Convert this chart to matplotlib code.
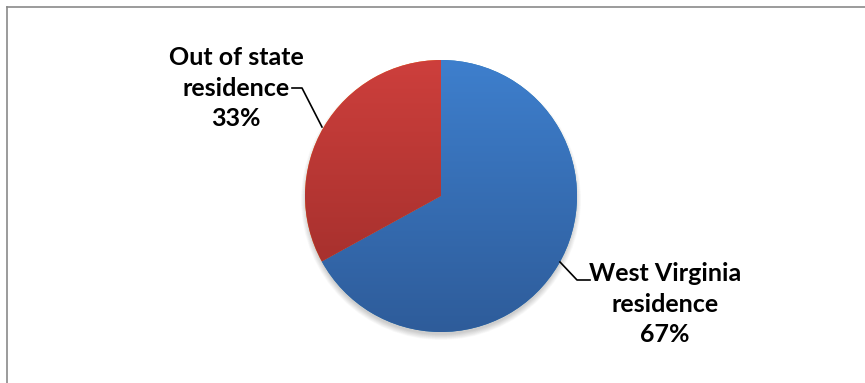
import numpy as np
import matplotlib
matplotlib.use("Agg")
import matplotlib.pyplot as plt
from matplotlib.patches import Circle
from matplotlib.colors import LinearSegmentedColormap

labels = ["West Virginia\nresidence", "Out of state\nresidence"]
values = [67, 33]
top_colors = ["#3E7FCD", "#CD3F3C"]
bottom_colors = ["#2E5C9A", "#9B2C29"]

W, H = 865, 383
fig = plt.figure(figsize=(W / 100, H / 100), dpi=100)
ax = fig.add_axes([0, 0, 1, 1])

cx, cy, r = 441, H - 196, 136

# shadow
for k in range(10):
    ax.add_patch(Circle((cx, cy - 4), r + 4 - k * 0.6, color="#000000",
                        alpha=0.018, lw=0, zorder=1))

wedges, _ = ax.pie(values, startangle=90, counterclock=False,
                   center=(cx, cy), radius=r, frame=True,
                   wedgeprops=dict(linewidth=0))

grad = np.linspace(0, 1, 256).reshape(-1, 1)
for w, ct, cb in zip(wedges, top_colors, bottom_colors):
    w.set_zorder(2)
    cmap = LinearSegmentedColormap.from_list("g", [cb, ct])
    im = ax.imshow(grad, cmap=cmap, origin="lower", aspect="auto",
                   extent=(cx - r, cx + r, cy - r, cy + r), zorder=3)
    im.set_clip_path(w)

ax.set_xlim(0, W)
ax.set_ylim(0, H)
ax.set_aspect("equal")
ax.axis("off")

font = dict(family=["Lato", "DejaVu Sans"], fontweight="bold", fontsize=18,
            ha="center", va="center", linespacing=1.38, color="black")

ax.text(236, H - 88, f"{labels[1]}\n{values[1]}%", **font, zorder=5)
ax.text(665, H - 304, f"{labels[0]}\n{values[0]}%", **font, zorder=5)

# leader lines
ax.plot([292, 302, 322], [H - 88, H - 88, H - 127], color="black", lw=1.2, zorder=5)
ax.plot([560, 577, 590], [H - 262, H - 280, H - 280], color="black", lw=1.2, zorder=5)

# frame
ax.plot([7, W], [H - 7, H - 7], color="#8A8A8A", lw=1.2, zorder=6)
ax.plot([7, 7], [0, H - 7], color="#8A8A8A", lw=1.2, zorder=6)

fig.savefig("out.png", dpi=100)
